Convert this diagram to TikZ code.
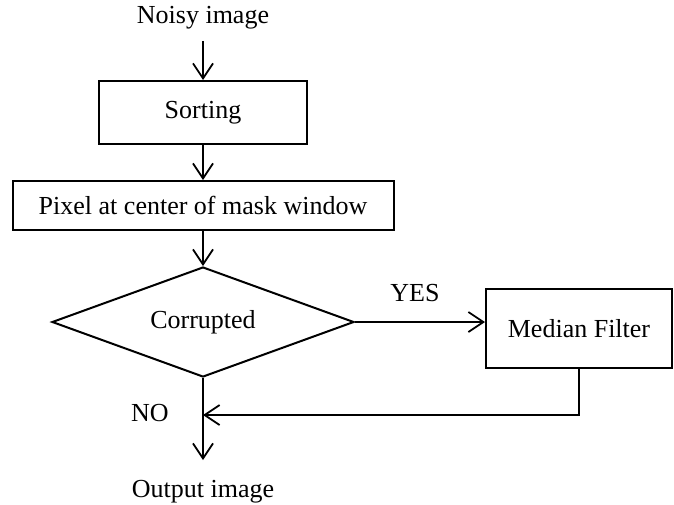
\documentclass[tikz,border=0pt]{standalone}
\usepackage{fontspec}
\setmainfont{Liberation Serif}
\usetikzlibrary{arrows.meta,shapes.geometric}

\tikzset{
  stepbox/.style={draw,line width=2pt,inner sep=0pt},
  flow/.style={line width=1.8pt,-{Straight Barb[length=15pt,width=20pt,line width=1.8pt]}}
}

\begin{document}
\begin{tikzpicture}[x=1pt,y=-1pt,font=\fontsize{26}{31}\selectfont]
\useasboundingbox (0,0) rectangle (674,504);
\node (in) at (203,18) {Noisy image};
\node[stepbox,minimum width=208pt,minimum height=63pt] (sort) at (203,112.5) {Sorting};
\node[stepbox,minimum width=381pt,minimum height=49pt] (pix) at (203,205.5) {Pixel at center of mask window};
\node[stepbox,diamond,aspect=2.75,minimum width=302pt,minimum height=110pt] (dec) at (203,322) {Corrupted};
\node[stepbox,minimum width=186pt,minimum height=79pt] (med) at (579,328.5) {Median Filter};
\node (out) at (203,492) {Output image};

\node at (415,293) {YES};
\node at (150,413) {NO};

\coordinate (join) at (203,415);
\coordinate (end) at (203,460);

\draw[flow,shorten <=8pt] (in) -- (sort);
\foreach \from/\to in {sort/pix,pix/dec}
\draw[flow] (\from) -- (\to);
\draw[flow] (dec.east) -- (dec.east -| med.west);
\draw[flow] (dec.south) -- (end);
\draw[flow,line width=1.5pt] (med.south) |- (join);
\end{tikzpicture}
\end{document}
